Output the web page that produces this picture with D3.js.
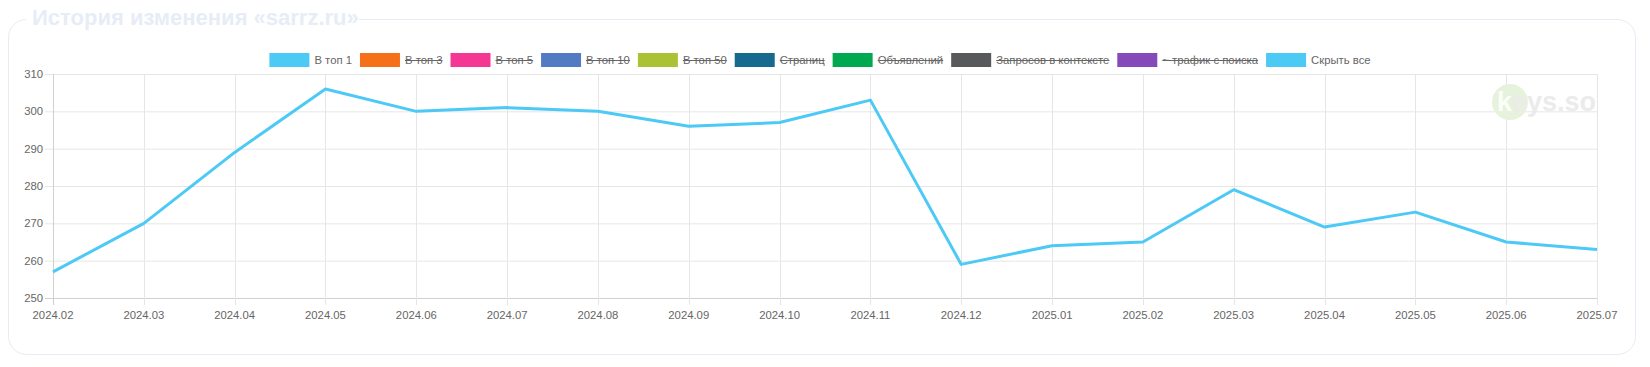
<!DOCTYPE html>
<html>
<head>
<meta charset="utf-8">
<script src="https://cdn.jsdelivr.net/npm/d3@7"></script>
<style>
  body { margin: 0; background: #fff; font-family: "Liberation Sans", Arial, sans-serif; }
</style>
</head>
<body>
<div id="chart"></div>
<script>
let w = 1650;
let h = 367;

// data
let months = ["2024.02","2024.03","2024.04","2024.05","2024.06","2024.07","2024.08","2024.09",
  "2024.10","2024.11","2024.12","2025.01","2025.02","2025.03","2025.04","2025.05","2025.06","2025.07"];
let top1 = [257, 270, 289, 306, 300, 301, 300, 296, 297, 303, 259, 264, 265, 279, 269, 273, 265, 263];
let yTicks = [250, 260, 270, 280, 290, 300, 310];

let legendNames = ["В топ 1","В топ 3","В топ 5","В топ 10","В топ 50","Страниц","Объявлений",
  "Запросов в контексте","~ трафик с поиска","Скрыть все"];
let legendColors = ["#4dc9f6","#f67019","#f53794","#537bc4","#acc236","#166a8f","#00a950",
  "#58595b","#8549ba","#4dc9f6"];
let legendHidden = [false,true,true,true,true,true,true,true,true,false];

let plotLeft = 53, plotRight = 1597, plotTop = 74, plotBottom = 298;
let fs = 11.3;

let viz = d3.select("#chart")
  .append("svg")
  .attr("width", w)
  .attr("height", h);

// card
viz.append("rect")
  .attr("x", 8.5).attr("y", 19.5)
  .attr("width", 1627).attr("height", 335)
  .attr("rx", 18)
  .attr("fill", "#fff")
  .attr("stroke", "#e6ebf4");

// title covering the top border
viz.append("rect")
  .attr("x", 26).attr("y", 5).attr("width", 333).attr("height", 26)
  .attr("fill", "#fff");
viz.append("text")
  .attr("x", 32).attr("y", 25)
  .attr("font-size", 22).attr("font-weight", "bold")
  .attr("fill", "#e6edf7")
  .text("История изменения «sarrz.ru»");

let xScale = d3.scalePoint().domain(months).range([plotLeft, plotRight]);
let yScale = d3.scaleLinear().domain([250, 310]).range([plotBottom, plotTop]);

// grid
viz.append("g").selectAll("line").data(yTicks).enter()
  .append("line")
  .attr("x1", plotLeft - 8).attr("x2", plotRight)
  .attr("y1", d => yScale(d) + 0.5).attr("y2", d => yScale(d) + 0.5)
  .attr("stroke", d => d == 250 ? "#d0d0d0" : "#e6e6e6");

viz.append("g").selectAll("line").data(months).enter()
  .append("line")
  .attr("x1", d => Math.round(xScale(d)) + 0.5).attr("x2", d => Math.round(xScale(d)) + 0.5)
  .attr("y1", plotTop).attr("y2", plotBottom + 7)
  .attr("stroke", (d, i) => i == 0 ? "#d0d0d0" : "#e6e6e6");

// y labels
viz.append("g").selectAll("text").data(yTicks).enter()
  .append("text")
  .attr("x", 43).attr("y", d => yScale(d) + 4)
  .attr("text-anchor", "end")
  .attr("font-size", fs).attr("fill", "#666")
  .text(d => d);

// x labels
viz.append("g").selectAll("text").data(months).enter()
  .append("text")
  .attr("x", d => xScale(d)).attr("y", 318.5)
  .attr("text-anchor", "middle")
  .attr("font-size", fs).attr("fill", "#666")
  .text(d => d);

// watermark
let wm = viz.append("g");
wm.append("circle").attr("cx", 1510).attr("cy", 102).attr("r", 18).attr("fill", "#e7f2dc");
let wmText = wm.append("text")
  .attr("x", 1497).attr("y", 111)
  .attr("font-size", 27).attr("font-weight", "bold");
wmText.append("tspan").attr("fill", "#fbfdf8").text("k");
wmText.append("tspan").attr("fill", "#ebebeb").text("eys.so");

// line
let line = d3.line()
  .x((d, i) => xScale(months[i]))
  .y(d => yScale(d));

viz.append("path")
  .datum(top1)
  .attr("d", line)
  .attr("fill", "none")
  .attr("stroke", "#4dc9f6")
  .attr("stroke-width", 3)
  .attr("stroke-linejoin", "round");

// legend
let legend = viz.append("g");
let lx = 0;
legendNames.forEach(function(name, i){
  let g = legend.append("g").attr("transform", "translate(" + lx + ",0)");
  g.append("rect")
    .attr("x", 0).attr("y", 53).attr("width", 40).attr("height", 14)
    .attr("fill", legendColors[i]);
  let t = g.append("text")
    .attr("x", 45).attr("y", 64)
    .attr("font-size", fs).attr("fill", "#666")
    .text(name);
  let tw = t.node().getComputedTextLength();
  if (legendHidden[i]) {
    g.append("line")
      .attr("x1", 45).attr("x2", 45 + tw)
      .attr("y1", 60.5).attr("y2", 60.5)
      .attr("stroke", "#666").attr("stroke-width", 1.2);
  }
  lx += 45 + tw + 8;
});
let totalW = lx - 8;
legend.attr("transform", "translate(" + (820 - totalW / 2) + ",0)");
</script>
</body>
</html>
